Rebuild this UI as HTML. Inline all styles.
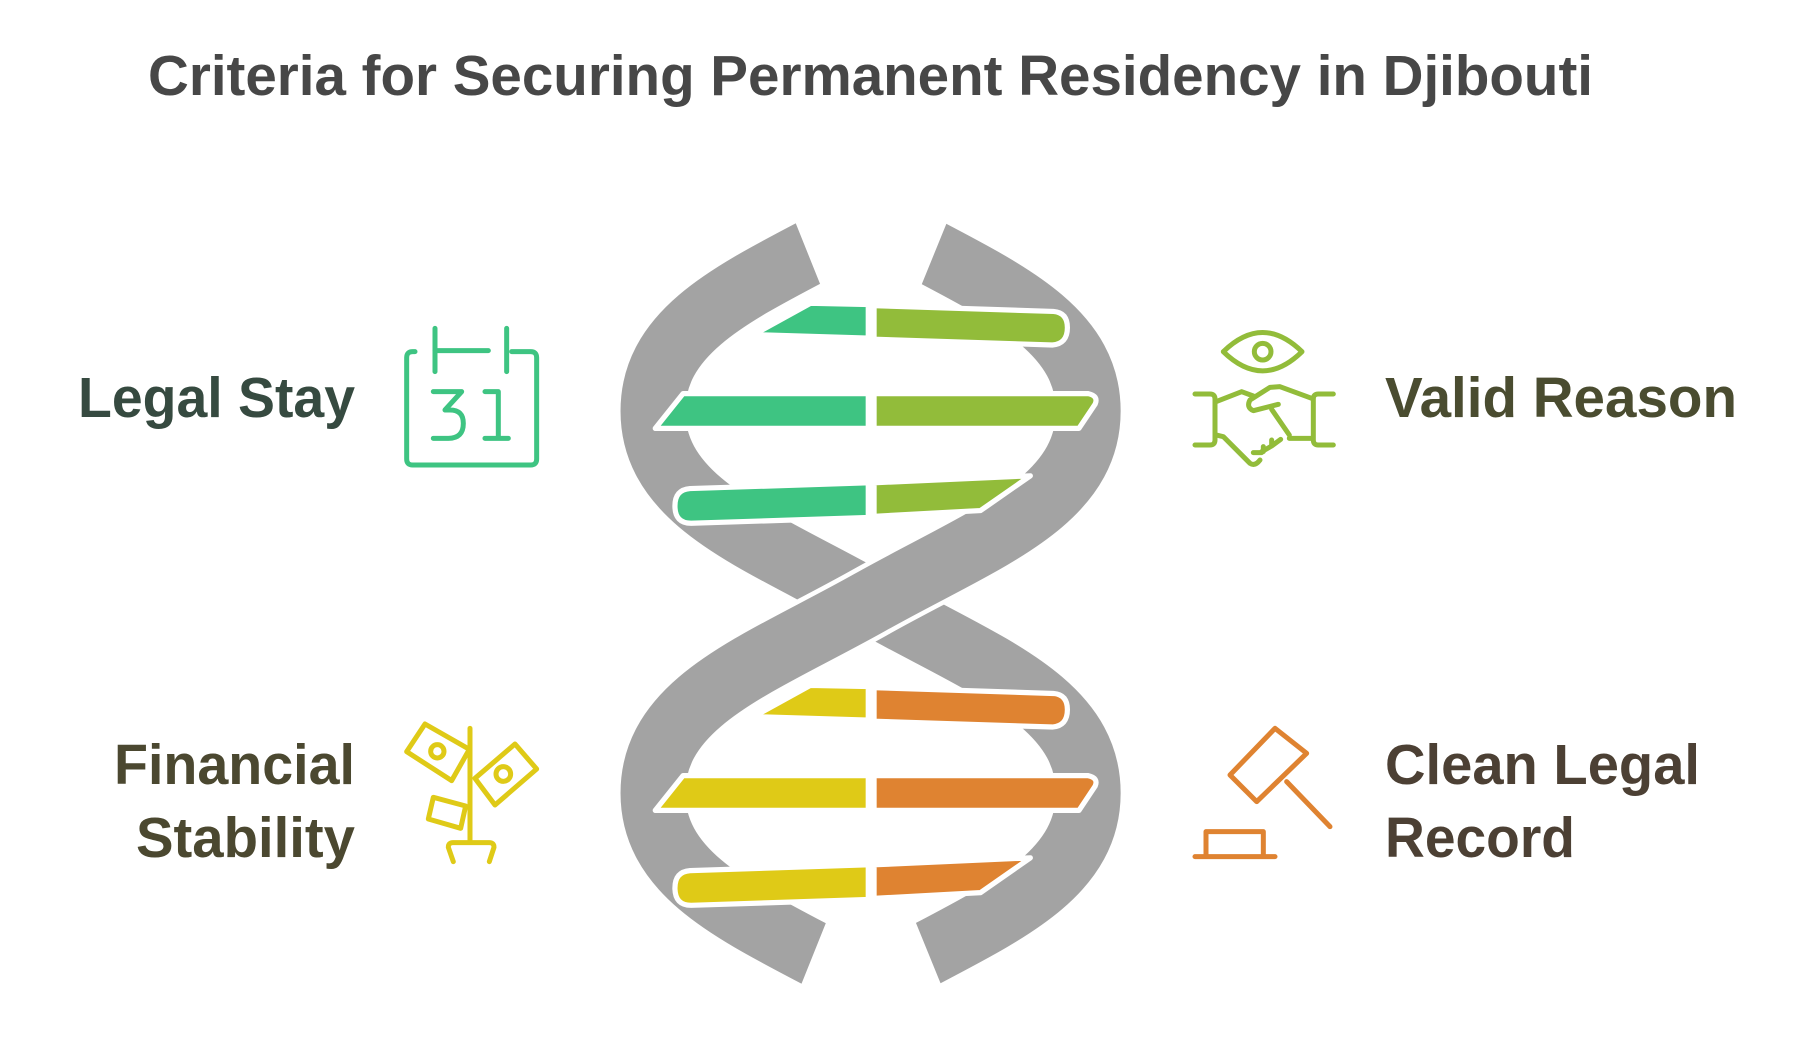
<!DOCTYPE html>
<html><head><meta charset="utf-8"><style>
html,body{margin:0;padding:0;background:#fff;}
svg{display:block;}
text{font-family:"Liberation Sans",Arial,sans-serif;font-weight:bold;}
</style></head><body>
<svg width="1806" height="1042" viewBox="0 0 1806 1042" xmlns="http://www.w3.org/2000/svg">
<rect width="1806" height="1042" fill="#fff"/>
<text x="148" y="95" font-size="57" fill="#474747" textLength="1445" lengthAdjust="spacingAndGlyphs">Criteria for Securing Permanent Residency in Djibouti</text>

<text x="355" y="417" font-size="57" fill="#364a40" text-anchor="end" textLength="277" lengthAdjust="spacingAndGlyphs">Legal Stay</text>
<text x="1385" y="417" font-size="57" fill="#4a4c30" textLength="352" lengthAdjust="spacingAndGlyphs">Valid Reason</text>
<text x="355" y="784" font-size="57" fill="#4b4830" text-anchor="end" textLength="241" lengthAdjust="spacingAndGlyphs">Financial</text>
<text x="355" y="857" font-size="57" fill="#4b4830" text-anchor="end" textLength="219" lengthAdjust="spacingAndGlyphs">Stability</text>
<text x="1385" y="784" font-size="57" fill="#4c4034" textLength="315" lengthAdjust="spacingAndGlyphs">Clean Legal</text>
<text x="1385" y="857" font-size="57" fill="#4c4034" textLength="190" lengthAdjust="spacingAndGlyphs">Record</text>

<g transform="scale(1.1577)">
<defs>
<clipPath id="dc"><polygon points="0,192 687,192 752,354 818,192 1560,192 1560,863 818,863 752,701 687,863 0,863"/></clipPath>
</defs>
<g clip-path="url(#dc)" fill="none" stroke-linecap="butt">
<path d="M752,190 C656,244 564,275 564,355" stroke="#a3a3a3" stroke-width="56"/>
<path d="M752,190 C848,244 940,275 940,355" stroke="#a3a3a3" stroke-width="56"/>
<path d="M564,355 C564,435 656,466 752,520 C848,574 940,605 940,685" stroke="#fff" stroke-width="64"/>
<path d="M564,355 C564,435 656,466 752,520 C848,574 940,605 940,685" stroke="#a3a3a3" stroke-width="56"/>
<path d="M940,355 C940,435 848,466 752,520 C656,574 564,605 564,685" stroke="#fff" stroke-width="64"/>
<path d="M940,355 C940,435 848,466 752,520 C656,574 564,605 564,685" stroke="#a3a3a3" stroke-width="56"/>
<path d="M940,685 C940,765 848,796 752,850" stroke="#fff" stroke-width="64"/>
<path d="M940,685 C940,765 848,796 752,850" stroke="#a3a3a3" stroke-width="56"/>
<path d="M564,685 C564,765 656,796 752,850" stroke="#fff" stroke-width="64"/>
<path d="M564,685 C564,765 656,796 752,850" stroke="#a3a3a3" stroke-width="56"/>
</g>
<g stroke="#fff" stroke-width="4.5" stroke-linejoin="round">
<polygon points="651,289 700,262 750,263 750,292" fill="#3ec482"/>
<path d="M755,264 L910,269 Q922,270 922,283 Q922,297 909,298 L755,293 Z" fill="#92bc3a"/>
<polygon points="566,370 590,340 750,340 750,370" fill="#3ec482"/>
<path d="M755,340 L940,340 Q949,342 946,349 L932,370 L755,370 Z" fill="#92bc3a"/>
<path d="M750,417 L596,422 Q583,423 583,437 Q583,452 597,452 L750,447 Z" fill="#3ec482"/>
<polygon points="755,417 890,411 847,441 755,446" fill="#92bc3a"/>
<g transform="translate(0,330)">
<polygon points="651,289 700,262 750,263 750,292" fill="#dfca17"/>
<path d="M755,264 L910,269 Q922,270 922,283 Q922,297 909,298 L755,293 Z" fill="#df8331"/>
<polygon points="566,370 590,340 750,340 750,370" fill="#dfca17"/>
<path d="M755,340 L940,340 Q949,342 946,349 L932,370 L755,370 Z" fill="#df8331"/>
<path d="M750,417 L596,422 Q583,423 583,437 Q583,452 597,452 L750,447 Z" fill="#dfca17"/>
<polygon points="755,417 890,411 847,441 755,446" fill="#df8331"/>
</g>
</g>
</g>

<!-- calendar -->
<g transform="translate(400,320) scale(0.3333)" fill="none" stroke="#3ec482" stroke-width="15" stroke-linecap="round" stroke-linejoin="round">
<path d="M45,95 H38 Q20,95 20,113 V417 Q20,435 38,435 H392 Q410,435 410,417 V113 Q410,95 392,95 H335"/>
<path d="M105,92 H265"/>
<path d="M105,25 V155 M320,25 V155"/>
<path d="M100,215 H185 L135,270 H150 Q190,270 190,310 Q190,355 145,355 H100"/>
<path d="M255,215 H295 V355 M255,355 H325"/>
</g>

<!-- handshake -->
<g transform="translate(1190,320) scale(0.3333)" fill="none" stroke="#92bc3a" stroke-width="15" stroke-linecap="round" stroke-linejoin="round">
<path d="M100,95 Q218,-20 336,95 Q218,210 100,95 Z"/>
<circle cx="218" cy="95" r="25"/>
<path d="M15,222 H60 Q75,222 75,237 V360 Q75,375 60,375 H15"/>
<path d="M430,222 H385 Q370,222 370,237 V360 Q370,375 385,375 H430"/>
<path d="M78,245 L155,215 L190,228"/>
<path d="M365,235 L270,200 L240,202 L180,240 Q168,262 190,272 L265,253"/>
<path d="M245,268 L298,345 M298,355 L362,355"/>
<path d="M78,345 L100,350 L180,430 Q195,440 210,420 M190,398 L215,398 M215,395 L245,378 L272,358 M220,380 L220,395 M245,360 L245,375"/>
</g>

<!-- money plant -->
<g transform="translate(400,720) scale(0.3333)" fill="none" stroke="#dfca17" stroke-width="15" stroke-linecap="round" stroke-linejoin="round">
<path d="M210,25 V360"/>
<path d="M160,425 L145,382 Q145,368 159,368 H268 Q282,368 282,382 L268,425"/>
<polygon points="20,95 75,12 208,88 155,182"/>
<circle cx="112" cy="94" r="20"/>
<polygon points="225,175 345,72 410,147 285,255"/>
<circle cx="310" cy="162" r="22"/>
<polygon points="100,232 197,258 182,325 85,297"/>
</g>

<!-- gavel -->
<g transform="translate(1190,720) scale(0.3333)" fill="none" stroke="#df8331" stroke-width="15" stroke-linecap="round" stroke-linejoin="round">
<polygon points="120,165 255,25 350,100 200,245"/>
<path d="M290,185 L420,320"/>
<path d="M48,405 V335 H220 V405"/>
<path d="M15,410 H255"/>
</g>
</svg>
</body></html>
